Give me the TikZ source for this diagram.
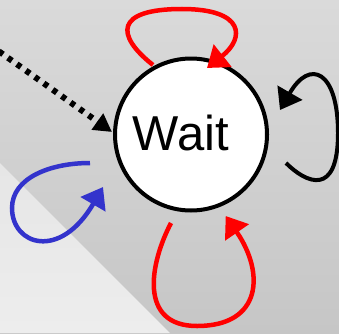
\documentclass[tikz,border=0pt]{standalone}
\usepackage{fontspec}
\setmainfont{Liberation Sans}
\usetikzlibrary{arrows.meta}
\definecolor{loopred}{RGB}{255,0,0}
\definecolor{loopblue}{RGB}{51,51,204}
\definecolor{bgtop}{RGB}{218,218,218}
\definecolor{bgbot}{RGB}{198,198,198}
\definecolor{lttop}{RGB}{230,230,230}
\definecolor{ltbot}{RGB}{237,237,237}
\begin{document}
\begin{tikzpicture}[x=1pt,y=1pt,
  state/.style={circle,draw=black,fill=white,line width=4pt,minimum size=152pt,inner sep=0pt},
  loopline/.style={line width=4.5pt,-{Triangle[length=20pt,width=28pt]}},
  dotline/.style={line width=6pt,dash pattern=on 5pt off 6pt,-{Triangle[length=18pt,width=19pt]}}]
\useasboundingbox (0,0) rectangle (339,333);
\clip (0,0) rectangle (339,333);
\shade[top color=bgtop,bottom color=bgbot] (0,0) rectangle (339,333);
\shade[top color=lttop,bottom color=ltbot] (0,0) -- (0,170) -- (170,0) -- cycle;
\node[state] (wait) at (191,198.5) {};
\node[font=\fontsize{49}{49}\selectfont,anchor=base,inner sep=0pt] (waitlabel) at (181,183) {Wait};
\coordinate (dotstart) at (-10,288);
\draw[dotline] (dotstart) -- ([shift={(-79,2.5)}]wait.center);
% top red loop
\draw[loopline,loopred] ([shift={(-38,69.5)}]wait.center)
  .. controls (115,298) and (115,324) .. (182,324)
  .. controls (245,324) and (245,295) .. ([shift={(16,66.5)}]wait.center);
% right black loop
\draw[loopline,black,line width=4pt] ([shift={(95,-28.5)}]wait.center)
  .. controls (306,150) and (338,135) .. (338,200)
  .. controls (338,262) and (310,275) .. ([shift={(89,24.5)}]wait.center);
% blue loop
\draw[loopline,loopblue] ([shift={(-101,-28.5)}]wait.center)
  .. controls (50,170) and (12,155) .. (12,125)
  .. controls (12,88) and (60,72) .. ([shift={(-88,-52.5)}]wait.center);
% bottom red loop
\draw[loopline,loopred] ([shift={(-20,-88.5)}]wait.center)
  .. controls (150,70) and (138,7) .. (197,7)
  .. controls (262,7) and (265,60) .. ([shift={(34.7,-81.5)}]wait.center);
\end{tikzpicture}
\end{document}
